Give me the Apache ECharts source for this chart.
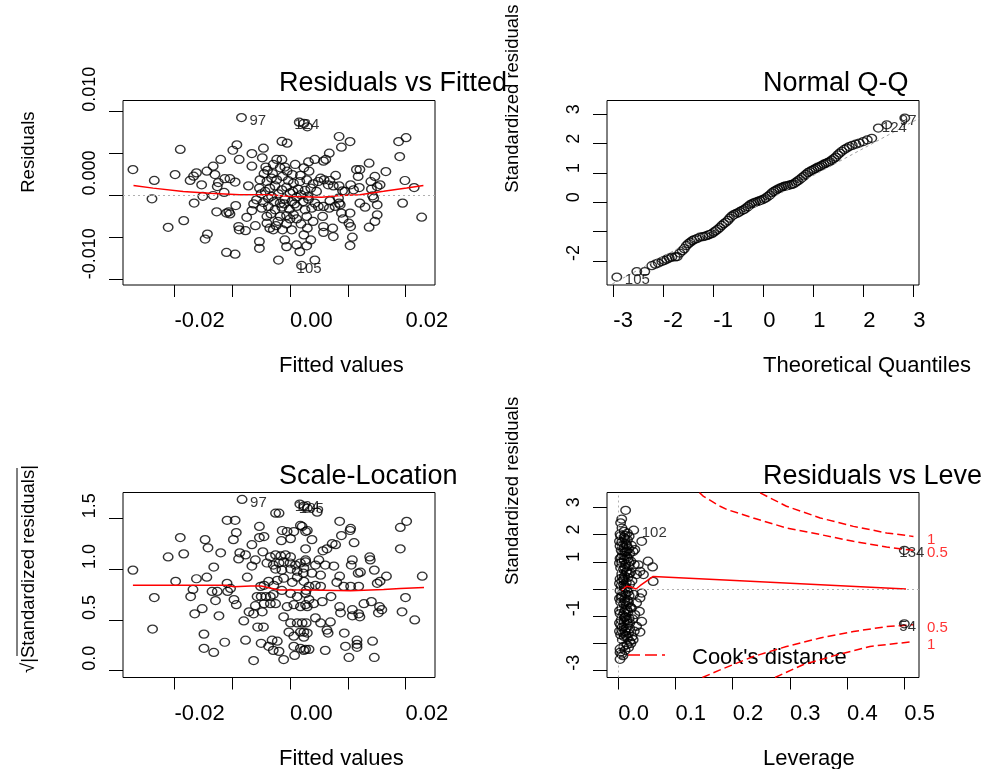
<!DOCTYPE html>
<html>
<head>
<meta charset="utf-8">
<script src="https://cdn.jsdelivr.net/npm/echarts@6.0.0/dist/echarts.min.js"></script>
<style>
html,body{margin:0;padding:0;background:#ffffff;}
#chart{width:981px;height:769px;}
</style>
</head>
<body>
<div id="chart"></div>
<script>
// ---------------- DATA ----------------
// Panel 1: Residuals vs Fitted  [fitted value, residual]
const residFitted = [
[-0.0084,0.0093],[0.0016,0.00875],[0.0024,0.0086],[0.0030,0.0082],[-0.0092,0.00605],[-0.0099,0.0054],[-0.0190,0.0055],
[-0.0014,0.00645],[-0.0005,0.00625],[-0.0046,0.00565],[-0.0066,0.0050],[-0.0048,0.0045],[-0.0088,0.0043],[-0.0120,0.0043],
[-0.0133,0.0035],[-0.0144,0.0029],[-0.0272,0.0031],[-0.0199,0.0025],[-0.0235,0.0018],[-0.0162,0.0027],[-0.0167,0.0023],
[-0.0173,0.0018],[-0.0130,0.0025],[-0.0124,0.00155],[-0.0126,0.00107],[-0.0153,0.00127],[-0.0113,0.0020],[-0.0104,0.0020],
[-0.0095,0.0016],[-0.0066,0.0035],[-0.0042,0.0034],[-0.0039,0.0030],[-0.0029,0.0037],[-0.0023,0.0043],[-0.0014,0.0043],
[-0.0017,0.0033],[-0.0009,0.0034],[0.0009,0.0037],[0.0024,0.0033],[0.0032,0.0040],[0.0043,0.0043],[-0.0072,0.00115],
[-0.0114,0.00036],[-0.0133,0.0000],[-0.0239,-0.0004],[-0.0166,-0.0009],[-0.0151,-0.0001],[-0.0127,-0.00195],[-0.0110,-0.0021],
[-0.0106,-0.00195],[-0.0104,-0.0022],[-0.0094,-0.0012],[-0.0075,-0.0026],[-0.0060,-0.0036],[-0.0089,-0.0037],[-0.0088,-0.0041],
[-0.0077,-0.0042],[-0.0211,-0.0038],[-0.0184,-0.0030],[-0.0143,-0.0046],[-0.0147,-0.0052],[-0.0110,-0.0068],[-0.0095,-0.0070],
[-0.0053,-0.0055],[-0.0053,-0.0063],[-0.0020,-0.0077],[0.0020,-0.00835],[0.0043,-0.0077],
[-0.0040,-0.0033],[-0.0035,-0.0039],[-0.0029,-0.0041],[-0.0024,-0.0036],[-0.0013,-0.0041],[-0.0006,-0.0034],[0.0000,-0.0028],
[0.0006,-0.0023],[0.0003,-0.0041],[-0.0009,-0.0053],[0.00115,-0.0059],[0.0017,-0.0067],[0.0029,-0.0060],[0.0036,-0.0053],
[0.0024,-0.0047],[-0.0006,-0.0061],
[-0.0052,0.00187],[-0.0040,0.00167],[-0.0032,0.00207],[-0.0023,0.00187],[-0.0013,0.00227],[-0.0003,0.00179],[0.0006,0.00147],
[0.0017,0.00167],[0.0029,0.00187],[0.0040,0.00139],[0.0049,0.00167],
[-0.0053,0.00088],[-0.0043,0.00048],[-0.0035,0.00088],[-0.0026,0.00115],[-0.0014,0.00068],[-0.0006,0.00099],[0.0005,0.00048],
[0.0014,0.00076],[0.0026,0.0006],[0.0036,0.00088],[0.0046,0.00048],
[-0.0058,-0.00052],[-0.0046,-0.00084],[-0.00375,-0.00032],[-0.0028,-0.00072],[-0.0017,-0.00091],[-0.0009,-0.00044],[0.0003,-0.00072],
[0.00115,-0.0002],[0.0023,-0.00072],[0.0032,-0.00044],[0.0043,-0.00091],
[-0.0049,-0.00151],[-0.00375,-0.00131],[-0.0026,-0.00171],[-0.0014,-0.00139],[-0.0001,-0.00163],[0.00115,-0.00131],[0.0026,-0.00171],
[0.00375,-0.00151],[0.0049,-0.00131],
[-0.0063,-0.0010],[-0.0066,-0.0018],[-0.0017,-0.0025],[-0.0006,-0.0024],[0.00115,-0.0028],[0.0029,-0.0025],[0.0040,-0.0031],[-0.0040,-0.0025],
[-0.0045,0.0026],[-0.0030,0.0026],[-0.0005,0.0029],[0.0004,0.0025],[0.0018,0.0024],[0.0033,0.0029],[-0.0020,0.0002],[0.0000,0.0003],
[0.0019,0.0001],[0.0031,-0.0001],[-0.0032,-0.0001],[-0.0050,0.0002],
[-0.0033,-0.0022],[-0.0021,-0.0031],[0.0019,-0.0034],[0.0030,-0.0039],[-0.0010,-0.0010],[0.0008,-0.0010],
[0.0085,0.00704],[0.0104,0.00644],[0.0089,0.00577],[0.0068,0.00505],[0.0062,0.0043],[0.0058,0.0041],[0.0188,0.00644],[0.0201,0.0069],
[0.0190,0.00465],[0.0137,0.00386],[0.0166,0.00286],[0.0115,0.0031],[0.0121,0.0031],[0.0118,0.00227],[0.0079,0.00239],[0.0069,0.00179],
[0.0066,0.00127],[0.0059,0.00187],[0.0053,0.00207],[0.0075,0.00115],[0.0085,0.00115],[0.0105,0.00127],[0.0110,0.00068],[0.0120,0.00095],
[0.0095,0.00048],[0.0091,0.00056],[0.0140,0.00167],[0.0147,0.00227],[0.0141,0.00076],[0.0151,0.00107],[0.0156,0.00127],[0.0199,0.00179],
[0.0215,0.00095],[0.0195,-0.00091],[0.0228,-0.00259],[0.0143,-0.00004],[0.0145,-0.00032],[0.0121,-0.00091],[0.0130,-0.00139],
[0.0151,-0.00111],[0.0151,-0.0023],[0.0147,-0.0031],[0.0137,-0.00378],[0.0104,-0.0021],[0.0089,-0.0021],[0.0092,-0.0028],[0.0102,-0.0033],
[0.0105,-0.0037],[0.0108,-0.00497],[0.0104,-0.00597],[0.0085,-0.00091],[0.0087,-0.00111],[0.0069,-0.00064],[0.0058,-0.00131],
[0.00565,-0.0025],[0.0058,-0.0037],[0.0058,-0.0044],[0.0074,-0.0039],[0.0075,-0.0049],[0.0078,-0.00131],[0.0084,-0.00032],[0.0068,-0.00151]
];
const residSmooth = [[-0.0271,0.0012],[-0.0237,0.00088],[-0.0185,0.00048],[-0.0139,0.00028],[-0.0087,0.00008],[-0.0040,0.00008],
[0.0006,-0.00012],[0.0055,-0.00022],[0.0087,0.0000],[0.0121,0.0001],[0.0162,0.0005],[0.0202,0.0009],[0.0231,0.0012]];
const residIds = [[-0.0084,0.0093,'97'],[0.0016,0.00875,'124'],[0.0020,-0.00835,'105']];

// Panel 2: Normal Q-Q  [theoretical quantile, standardized residual]
const qqPoints = [
[-2.93,-2.55],[-2.53,-2.36],[-2.37,-2.36],[-2.23,-2.16],[-2.16,-2.11],[-2.10,-2.07],[-2.03,-2.02],[-1.98,-1.98],[-1.93,-1.94],
[-1.88,-1.90],[-1.83,-1.87],[-1.76,-1.86],[-1.72,-1.85],[-1.67,-1.73],[-1.62,-1.65],[-1.58,-1.58],[-1.54,-1.48],[-1.50,-1.41],
[-1.46,-1.36],[-1.42,-1.31],[-1.38,-1.27],[-1.33,-1.24],[-1.27,-1.19],[-1.21,-1.17],[-1.16,-1.15],[-1.12,-1.13],[-1.08,-1.10],
[-1.03,-1.07],[-0.99,-1.02],[-0.95,-0.97],[-0.91,-0.92],[-0.87,-0.86],[-0.83,-0.79],[-0.79,-0.73],[-0.75,-0.68],[-0.71,-0.62],
[-0.67,-0.54],[-0.63,-0.47],[-0.59,-0.42],[-0.55,-0.39],[-0.51,-0.36],[-0.47,-0.32],[-0.43,-0.28],[-0.39,-0.25],[-0.35,-0.20],
[-0.31,-0.15],[-0.27,-0.09],[-0.23,-0.05],[-0.19,-0.02],[-0.15,0.01],[-0.11,0.03],[-0.07,0.06],[-0.03,0.08],[0.01,0.11],
[0.05,0.15],[0.09,0.20],[0.13,0.25],[0.17,0.32],[0.21,0.37],[0.25,0.41],[0.29,0.45],[0.33,0.48],[0.37,0.51],[0.41,0.54],
[0.45,0.56],[0.49,0.57],[0.53,0.59],[0.57,0.61],[0.61,0.63],[0.65,0.68],[0.69,0.73],[0.73,0.78],[0.77,0.84],[0.81,0.89],
[0.85,0.95],[0.89,1.01],[0.93,1.05],[0.97,1.09],[1.01,1.12],[1.05,1.16],[1.09,1.20],[1.13,1.22],[1.17,1.26],[1.21,1.30],
[1.25,1.33],[1.29,1.36],[1.33,1.39],[1.37,1.44],[1.41,1.49],[1.45,1.54],[1.49,1.62],[1.53,1.68],[1.57,1.74],[1.62,1.80],
[1.67,1.85],[1.72,1.90],[1.78,1.94],[1.85,1.98],[1.92,2.02],[2.00,2.07],[2.08,2.13],[2.17,2.18],[2.30,2.53],[2.47,2.64],[2.83,2.87]
];
const qqRefLine = [[-3.126,-2.88],[3.114,2.86]];
const qqIds = [[-2.93,-2.55,'105'],[2.47,2.64,'124'],[2.83,2.87,'97']];

// Panel 3: Scale-Location  [fitted value, sqrt(|standardized residual|)]
const scaleLoc = [
[-0.0083,1.686],[-0.0272,0.99],[-0.0235,0.72],[-0.0238,0.41],[-0.0190,1.31],[-0.0211,1.12],[-0.0184,1.15],[-0.0198,0.88],
[-0.0172,0.73],[-0.0168,0.80],[-0.0165,0.56],[-0.0152,0.61],[-0.0162,0.905],[-0.0147,1.29],[-0.0142,1.21],[-0.0144,0.92],
[-0.0132,1.02],[-0.0120,1.16],[-0.0135,0.78],[-0.0126,0.78],[-0.0129,0.69],[-0.0123,0.54],[-0.0149,0.36],[-0.0149,0.22],
[-0.0132,0.18],[-0.0113,0.28],[-0.0109,1.48],[-0.0095,1.48],[-0.0093,1.36],[-0.0098,1.29],[-0.0087,1.16],[-0.0089,1.10],
[-0.0077,1.14],[-0.0109,0.86],[-0.0103,0.81],[-0.0108,0.78],[-0.0097,0.70],[-0.0093,0.65],[-0.0074,0.92],[-0.0066,1.24],
[-0.0060,1.09],[-0.0066,1.03],[-0.0053,1.42],[-0.0053,1.31],[-0.0045,1.32],[-0.0047,1.17],[-0.0080,0.49],[-0.0071,0.58],
[-0.0063,0.56],[-0.0077,0.30],[-0.0063,0.10],[-0.0056,0.43],[-0.0046,0.43],[-0.0050,0.27],[-0.0037,0.24],[-0.0057,0.73],
[-0.0050,0.73],[-0.0042,0.73],[-0.0034,0.73],[-0.0029,0.75],[-0.0060,0.64],[-0.0045,0.66],[-0.0034,0.66],[-0.0048,0.58],
[-0.0031,0.30],[-0.0022,0.29],[-0.0029,0.20],[-0.0019,0.19],[-0.0011,0.11],[-0.0045,0.84],[-0.0037,0.88],[-0.0028,0.84],
[-0.0051,0.83],[-0.0025,1.55],[-0.0019,1.55],[0.0017,1.64],[0.0024,1.62],[0.0030,1.60],
[-0.0034,1.12],[-0.0025,1.14],[-0.0016,1.13],[-0.0008,1.14],[0.0001,1.12],[-0.0040,1.06],[-0.0029,1.04],[-0.0019,1.06],
[-0.0011,1.07],[0.0000,1.06],[0.00095,1.04],[0.0018,1.06],[0.0027,1.07],[-0.0025,1.00],[-0.0014,0.99],[0.0001,1.00],
[0.00125,0.98],[0.0024,1.01],
[-0.00135,1.38],[-0.0005,1.37],[0.00066,1.37],[0.0018,1.43],[0.0030,1.38],[0.0027,1.20],[-0.0015,1.28],[0.0001,1.30],
[-0.0022,0.89],[-0.0011,0.91],[0.0004,0.87],[0.00125,0.92],[0.0024,0.88],[0.0033,0.83],
[-0.0014,0.79],[0.0001,0.76],[0.00125,0.73],[0.0027,0.76],[0.0033,0.70],
[-0.0025,0.66],[-0.0005,0.63],[0.00066,0.65],[0.0018,0.63],[0.0030,0.63],
[-0.0011,0.53],[0.0001,0.47],[0.00125,0.47],[0.0021,0.47],[-0.0002,0.38],[0.00066,0.34],[0.0018,0.38],[0.0030,0.37],
[0.00066,0.24],[0.0018,0.22],[0.0024,0.20],[0.0008,0.15],
[0.0047,1.56],[0.0086,1.47],[0.0104,1.38],[0.0105,1.40],[0.0089,1.33],[0.0073,1.25],[0.0079,1.24],[0.0064,1.20],[0.0057,1.18],
[0.0111,1.26],[0.0038,1.29],[0.0027,1.37],[0.0021,1.42],[0.0191,1.41],[0.0202,1.47],[0.0191,1.20],[0.0138,1.12],[0.0139,1.09],
[0.0108,1.09],[0.0106,1.04],[0.0146,0.99],[0.0167,0.93],[0.0156,0.88],[0.0151,0.86],[0.0118,0.96],[0.0122,0.97],[0.0229,0.93],
[0.0086,0.93],[0.0081,0.87],[0.0093,0.83],[0.0105,0.83],[0.0119,0.83],[0.0076,1.03],[0.0061,1.04],[0.0044,1.04],[0.0050,1.09],
[0.0027,1.09],[0.0053,0.94],[0.0038,0.96],[0.0023,0.96],[0.0044,0.84],[0.0053,0.83],[0.0028,0.79],[0.0071,0.73],[0.0056,0.68],
[0.0041,0.66],[0.0027,0.65],[0.0128,0.66],[0.0141,0.68],[0.0155,0.63],[0.0159,0.60],[0.0153,0.57],[0.0200,0.72],[0.0194,0.58],
[0.0216,0.50],[0.0086,0.63],[0.00875,0.57],[0.0108,0.60],[0.0108,0.54],[0.0119,0.56],[0.0121,0.53],[0.0064,0.40],[0.0066,0.37],
[0.0070,0.48],[0.0044,0.52],[0.0053,0.47],[0.0028,0.47],[0.0094,0.37],[0.0096,0.24],[0.0116,0.30],[0.0116,0.26],[0.0116,0.23],
[0.0143,0.29],[0.0102,0.13],[0.0146,0.13],[0.0061,0.20],[0.0027,0.21],[0.0033,0.21],[0.0024,0.33],[0.0024,0.38]
];
const scaleSmooth = [[-0.0272,0.84],[-0.0110,0.84],[-0.0097,0.827],[-0.0068,0.834],[-0.0050,0.834],[-0.0031,0.81],[-0.0019,0.794],
[0.0018,0.794],[0.0035,0.794],[0.0105,0.788],[0.0162,0.80],[0.0191,0.81],[0.0232,0.82]];
const scaleIds = [[-0.0083,1.686,'97'],[0.0017,1.64,'124'],[0.0024,1.62,'105']];

// Panel 4: Residuals vs Leverage  [leverage, standardized residual]
const levPoints = [
[0.0128,2.89],[0.006,2.57],[0.004,2.43],[0.0064,2.24],[0.027,2.16],[0.041,1.75],[0.019,1.94],[0.012,1.84],[0.026,1.38],
[0.029,1.45],[0.052,1.02],[0.060,0.81],[0.035,0.89],[0.038,0.65],[0.044,0.53],[0.032,0.53],[0.061,0.28],[0.041,-0.15],
[0.038,-0.33],[0.032,-0.51],[0.037,-0.82],[0.029,-0.94],[0.041,-1.19],[0.038,-1.58],[0.032,-1.37],[0.026,-1.86],[0.020,-1.92],
[0.015,-2.05],[0.009,-2.11],[0.003,-2.33],[0.003,-2.58],[0.006,-2.39],[0.500,1.42],[0.500,-1.28],
[0.004,1.95],[0.010,1.90],[0.016,1.80],[0.006,1.72],[0.013,1.65],[0.003,1.58],[0.009,1.52],[0.018,1.48],[0.005,1.42],
[0.012,1.36],[0.020,1.30],[0.007,1.25],[0.015,1.18],[0.003,1.12],[0.010,1.06],[0.022,1.02],[0.006,0.96],[0.013,0.90],
[0.018,0.84],[0.004,0.78],[0.009,0.72],[0.015,0.66],[0.021,0.60],[0.006,0.55],[0.011,0.48],[0.017,0.42],[0.003,0.37],
[0.008,0.30],[0.014,0.24],[0.020,0.18],[0.005,0.12],[0.010,0.06],[0.016,0.00],[0.003,-0.06],[0.008,-0.12],[0.013,-0.18],
[0.019,-0.24],[0.005,-0.30],[0.011,-0.36],[0.016,-0.42],[0.004,-0.48],[0.009,-0.54],[0.014,-0.60],[0.021,-0.66],[0.006,-0.72],
[0.012,-0.78],[0.017,-0.84],[0.003,-0.90],[0.008,-0.96],[0.013,-1.02],[0.019,-1.08],[0.005,-1.14],[0.010,-1.20],[0.016,-1.26],
[0.004,-1.32],[0.009,-1.38],[0.014,-1.44],[0.006,-1.50],[0.012,-1.56],[0.018,-1.62],[0.004,-1.68],[0.010,-1.74],[0.016,-1.80],
[0.007,-1.86],[0.012,1.97],[0.008,1.60],[0.015,1.40],[0.005,1.15],[0.017,1.10],[0.011,0.80],[0.007,0.40],[0.019,0.55],
[0.013,0.05],[0.006,-0.25],[0.018,-0.50],[0.010,-0.85],[0.015,-1.15],[0.007,-1.40],[0.013,-1.70],[0.020,-1.45],
[0.010,2.12],[0.016,2.05],[0.003,2.02],[0.003,-2.20],[0.012,-2.25],[0.018,-2.15],[0.008,-2.45],[0.022,-2.00],[0.024,-1.75],
[0.028,-1.55],[0.025,-1.10],[0.023,-0.70],[0.027,-0.20],[0.024,0.30],[0.028,0.90],[0.023,1.60],
[0.002,1.75],[0.008,1.38],[0.002,0.95],[0.014,0.62],[0.002,0.20],[0.009,0.15],[0.002,-0.35],[0.012,-0.45],[0.002,-0.80],
[0.011,-1.05],[0.002,-1.25],[0.008,-1.62],[0.002,-1.55],[0.015,1.60],[0.011,1.22],[0.019,0.98],[0.009,0.35],[0.017,-0.10],
[0.015,-0.75],[0.020,-1.25]
];
const levSmooth = [[0.0058,-0.05],[0.0146,0.10],[0.023,0.07],[0.031,0.00],[0.038,0.12],[0.061,0.46],[0.195,0.32],[0.503,0.00]];
const levIds = [[0.027,2.16,'102'],[0.500,1.42,'134'],[0.500,-1.28,'54']];
const cookUpper05 = [[0.142,3.54],[0.149,3.40],[0.178,3.04],[0.190,2.92],[0.236,2.61],[0.294,2.24],[0.353,2.00],[0.411,1.75],[0.469,1.54],[0.516,1.42]];
const cookUpper1 = [[0.248,3.53],[0.294,3.04],[0.353,2.61],[0.411,2.30],[0.469,2.06],[0.516,1.93]];
const cookLower05 = [[0.147,-3.25],[0.178,-2.97],[0.236,-2.48],[0.294,-2.11],[0.353,-1.80],[0.411,-1.56],[0.469,-1.38],[0.516,-1.31]];
const cookLower1 = [[0.274,-3.25],[0.323,-2.78],[0.382,-2.42],[0.440,-2.11],[0.516,-1.93]];
const cookLevelNames = ['1','0.5','0.5','1'];

// Tick values and labels
const fittedTicks = [-0.02,-0.01,0,0.01,0.02];
const fittedLabels = [-0.02,0,0.02];
const residTicks = [-0.01,-0.005,0,0.005,0.01];
const residLabels = [-0.01,0,0.01];
const qqXTicks = [-3,-2,-1,0,1,2,3];
const qqYTicks = [-2,-1,0,1,2,3];
const qqYLabels = [-2,0,1,2,3];
const scaleTicks = [0,0.5,1,1.5];
const levXTicks = [0,0.1,0.2,0.3,0.4,0.5];
const levYTicks = [-3,-2,-1,0,1,2,3];
const levYLabels = [-3,-1,1,2,3];

// ---------------- LAYOUT / STYLE ----------------
const FONT = "'Liberation Sans', Arial, Helvetica, sans-serif";
const boxes = [
  {left:123, top:100.5, width:312, height:184.5},
  {left:607, top:100.5, width:312, height:184.5},
  {left:123, top:492.5, width:312, height:185},
  {left:607, top:492.5, width:312, height:185}
];
const ranges = {
  p1x:[-0.028918,0.025108], p1y:[-0.01068,0.011336],
  p2x:[-3.126,3.114], p2y:[-2.819,3.47],
  p3x:[-0.028918,0.025108], p3y:[-0.067,1.754],
  p4x:[-0.01976,0.5257], p4y:[-3.25,3.544]
};
const ELLIPSE = 'path://M0,50A50,50,0,1,1,100,50A50,50,0,1,1,0,50Z';
const RED = '#ff0000';

function xAxis(i, rng, ticks, labels, fmt, name){
  return {
    type:'value', gridIndex:i, min:rng[0], max:rng[1],
    axisLine:{show:false, onZero:false}, splitLine:{show:false},
    axisTick:{show:true, length:12, customValues:ticks, lineStyle:{color:'#000', width:1}},
    axisLabel:{show:true, customValues:labels, formatter:fmt, align:'left', margin:25,
      color:'#000', fontSize:22, fontFamily:FONT},
    name:name, nameLocation:'middle', nameGap:70,
    nameTextStyle:{align:'left', color:'#000', fontSize:22, fontFamily:FONT}
  };
}
function yAxis(i, rng, ticks, labels, fmt, name, nameAlign, namePad){
  return {
    type:'value', gridIndex:i, min:rng[0], max:rng[1],
    axisLine:{show:false, onZero:false}, splitLine:{show:false},
    axisTick:{show:true, length:14, customValues:ticks, lineStyle:{color:'#000', width:1}},
    axisLabel:{show:true, customValues:labels, formatter:fmt, rotate:90, align:'left', margin:24,
      color:'#000', fontSize:18, fontFamily:FONT},
    name:name, nameLocation:'middle', nameRotate:90, nameGap:85,
    nameTextStyle:{align:nameAlign, padding:namePad, color:'#000', fontSize:18.5, fontFamily:FONT}
  };
}
function points(i, data){
  return {type:'scatter', xAxisIndex:i, yAxisIndex:i, data:data, symbol:ELLIPSE, symbolSize:[9.5,8],
    itemStyle:{color:'rgba(0,0,0,0)', borderColor:'#000', borderWidth:1.35}, silent:true, z:2, animation:false};
}
function line(i, data, color, width, type, z){
  return {type:'line', xAxisIndex:i, yAxisIndex:i, data:data, symbol:'none', showSymbol:false, silent:true,
    lineStyle:{color:color, width:width, type:type}, z:z, animation:false, clip:true};
}
function idLabels(i, data, rng, color){
  const mid = (rng[0]+rng[1])/2;
  return {type:'scatter', xAxisIndex:i, yAxisIndex:i, symbolSize:1, silent:true, z:6, animation:false, clip:false,
    itemStyle:{color:'rgba(0,0,0,0)'},
    data:data.map(d => ({value:d, label:{offset:[d[0] > mid ? -5 : 8, 3]}})),
    label:{show:true, position:'inside', align:'left', verticalAlign:'middle', formatter:p => p.value[2],
      color:color, fontSize:15, fontFamily:FONT}};
}
const zeroLine = {silent:true, symbol:'none', label:{show:false}, animation:false,
  lineStyle:{color:'#b0b0b0', type:[2,3], width:1}};

const cookEnds = [cookUpper1, cookUpper05, cookLower05, cookLower1].map((c, k) =>
  [ranges.p4x[1], c[c.length-1][1], cookLevelNames[k]]);

const titleStyle = {fontSize:27, fontWeight:'normal', color:'#000', fontFamily:FONT};
const option = {
  backgroundColor:'#ffffff',
  animation:false,
  title:[
    {text:'Residuals vs Fitted', left:279, top:70, padding:0, textStyle:titleStyle},
    {text:'Normal Q-Q', left:763, top:70, padding:0, textStyle:titleStyle},
    {text:'Scale-Location', left:279, top:463, padding:0, textStyle:titleStyle},
    {text:'Residuals vs Leverage', left:763, top:463, padding:0, textStyle:titleStyle}
  ],
  grid: boxes.map(b => Object.assign({show:true, borderColor:'#000', borderWidth:1, backgroundColor:'rgba(0,0,0,0)',
    containLabel:false, outerBoundsMode:'none'}, b)),
  xAxis:[
    xAxis(0, ranges.p1x, fittedTicks, fittedLabels, v => v.toFixed(2), 'Fitted values'),
    xAxis(1, ranges.p2x, qqXTicks, qqXTicks, v => String(Math.round(v)), 'Theoretical Quantiles'),
    xAxis(2, ranges.p3x, fittedTicks, fittedLabels, v => v.toFixed(2), 'Fitted values'),
    xAxis(3, ranges.p4x, levXTicks, levXTicks, v => v.toFixed(1), 'Leverage')
  ],
  yAxis:[
    yAxis(0, ranges.p1y, residTicks, residLabels, v => v.toFixed(3), 'Residuals', 'left', 0),
    yAxis(1, ranges.p2y, qqYTicks, qqYLabels, v => String(Math.round(v)), 'Standardized residuals', 'left', 0),
    yAxis(2, ranges.p3y, scaleTicks, scaleTicks, v => v.toFixed(1), '\u221A|Standardized residuals|', 'center', [0,0,0,32]),
    yAxis(3, ranges.p4y, levYTicks, levYLabels, v => String(Math.round(v)), 'Standardized residuals', 'left', 0)
  ],
  series:[
    Object.assign(points(0, residFitted), {markLine:Object.assign({data:[{yAxis:0}]}, zeroLine)}),
    line(0, residSmooth, RED, 1.5, 'solid', 4),
    idLabels(0, residIds, ranges.p1x, '#000'),

    points(1, qqPoints),
    line(1, qqRefLine, '#a0a0a0', 1, [3,3], 3),
    idLabels(1, qqIds, ranges.p2x, '#000'),

    points(2, scaleLoc),
    line(2, scaleSmooth, RED, 1.5, 'solid', 4),
    idLabels(2, scaleIds, ranges.p3x, '#000'),

    Object.assign(points(3, levPoints), {markLine:Object.assign({data:[{yAxis:0},{xAxis:0}]}, zeroLine)}),
    line(3, levSmooth, RED, 1.5, 'solid', 4),
    line(3, cookUpper05, RED, 1.5, [8,4], 3),
    line(3, cookUpper1, RED, 1.5, [8,4], 3),
    line(3, cookLower05, RED, 1.5, [8,4], 3),
    line(3, cookLower1, RED, 1.5, [8,4], 3),
    idLabels(3, levIds, ranges.p4x, '#000'),
    {type:'scatter', xAxisIndex:3, yAxisIndex:3, symbolSize:1, silent:true, z:6, animation:false, clip:false,
      itemStyle:{color:'rgba(0,0,0,0)'}, data:cookEnds,
      label:{show:true, position:'inside', align:'left', verticalAlign:'middle', offset:[8,3],
        formatter:p => p.value[2], color:RED, fontSize:15, fontFamily:FONT}}
  ],
  graphic:[
    {type:'line', silent:true, shape:{x1:628, y1:655, x2:665, y2:655}, style:{stroke:RED, lineWidth:1.5, lineDash:[12,5]}},
    {type:'text', silent:true, left:692, top:647, style:{text:"Cook's distance", fill:'#000', font:"22px 'Liberation Sans', Arial, sans-serif"}},
    {type:'line', silent:true, shape:{x1:17, y1:468, x2:17, y2:656}, style:{stroke:'#000', lineWidth:1}}
  ]
};

const chart = echarts.init(document.getElementById('chart'), null, {renderer:'canvas'});
chart.setOption(option);
</script>
</body>
</html>
